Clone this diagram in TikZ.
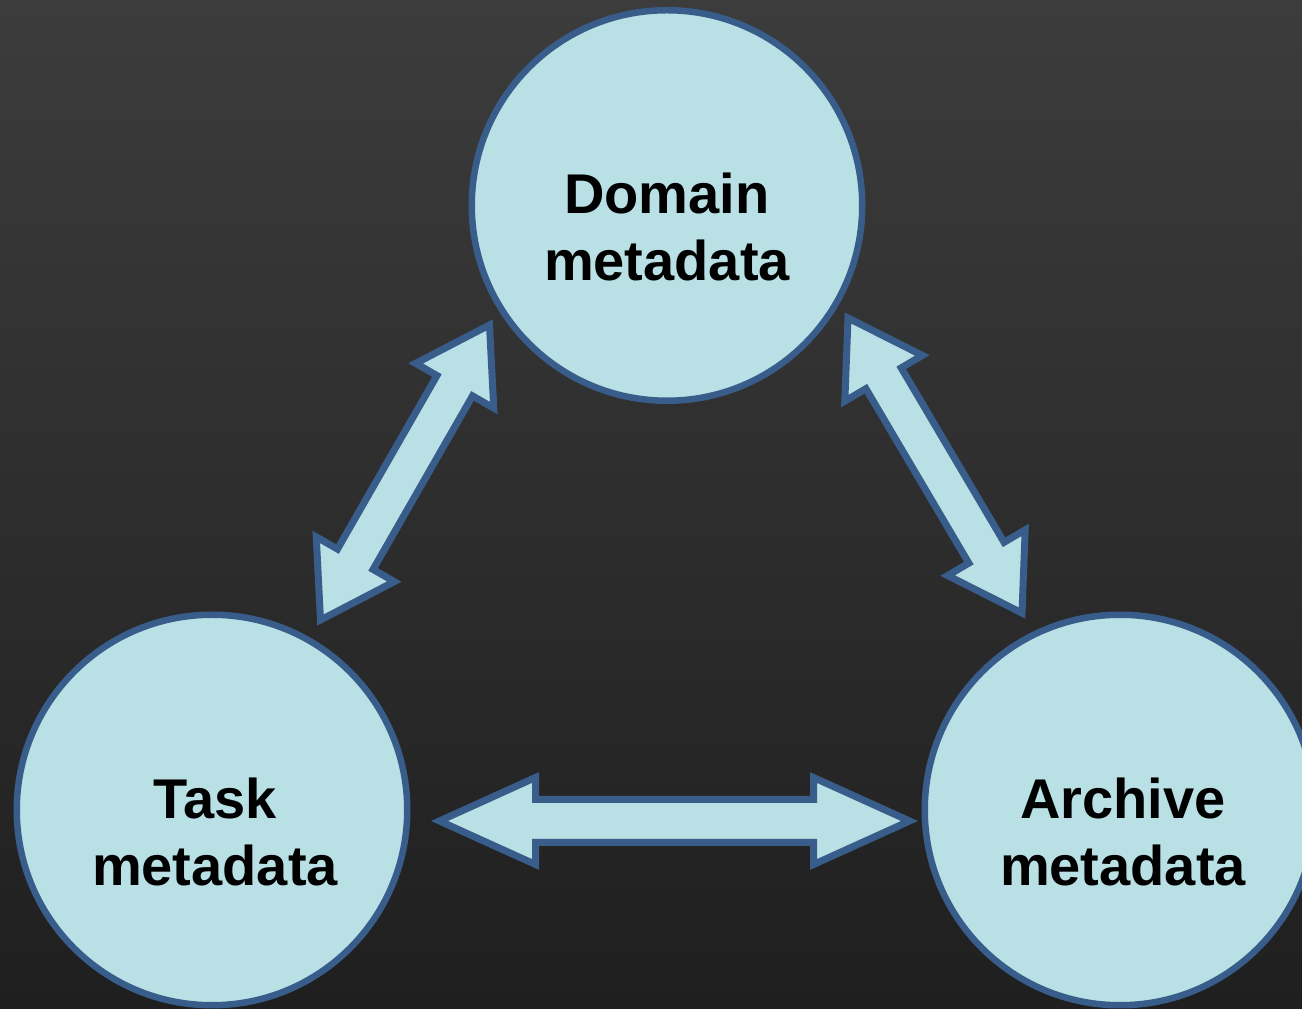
\documentclass[tikz,border=0pt]{standalone}
\usepackage{fontspec}
\setmainfont{Liberation Sans}
\usetikzlibrary{calc}

\definecolor{bgtop}{RGB}{60,60,60}
\definecolor{bgbottom}{RGB}{31,31,31}
\definecolor{discfill}{RGB}{185,224,228}
\definecolor{discline}{RGB}{56,93,138}

% Double-headed block arrow between two tip points.
% #1,#2: tips; #3: shaft half-width; #4: head half-width; #5: head length
\newcommand\blockarrow[5]{%
  \filldraw[arrowbody]
    (#1)
    -- ($(#1)!#5!(#2)!#4!90:(#2)$)
    -- ($(#1)!#5!(#2)!#3!90:(#2)$)
    -- ($(#2)!#5!(#1)!#3!-90:(#1)$)
    -- ($(#2)!#5!(#1)!#4!-90:(#1)$)
    -- (#2)
    -- ($(#2)!#5!(#1)!#4!90:(#1)$)
    -- ($(#2)!#5!(#1)!#3!90:(#1)$)
    -- ($(#1)!#5!(#2)!#3!-90:(#2)$)
    -- ($(#1)!#5!(#2)!#4!-90:(#2)$)
    -- cycle;}

\tikzset{
  disc/.style={circle, draw=discline, fill=discfill, line width=6.5pt,
    minimum size=390.5pt, inner sep=0pt},
  disclabel/.style={font=\bfseries\fontsize{56}{67}\selectfont,
    align=center, text=black, inner sep=0pt},
  arrowbody/.style={draw=discline, fill=discfill, line width=7pt,
    line join=miter},
}

\begin{document}
\begin{tikzpicture}[x=1pt, y=1pt]
  % background
  \shade[top color=bgtop, bottom color=bgbottom] (0,0) rectangle (1302,1009);
  \useasboundingbox (0,0) rectangle (1302,1009);

  % the three metadata discs
  \node[disc] (domain)  at (667,803.5) {};
  \node[disc] (task)    at (212,199)   {};
  \node[disc] (archive) at (1120,199)  {};

  \node[disclabel] (domainlbl)  at ([yshift=-21.5pt]domain.center)  {Domain\\metadata};
  \node[disclabel] (tasklbl)    at ([xshift=3pt,yshift=-21.5pt]task.center)    {Task\\metadata};
  \node[disclabel] (archivelbl) at ([xshift=3pt,yshift=-21.5pt]archive.center) {Archive\\metadata};

  % arrow tips
  \coordinate (taskup)      at (320.5,389);
  \coordinate (domainleft)  at (489.5,684);
  \coordinate (domainright) at (848,691);
  \coordinate (archiveup)   at (1022,396);
  \coordinate (taskright)   at (439.5,188);
  \coordinate (archiveleft) at (909.5,188);

  % two-way links
  \blockarrow{taskup}{domainleft}{20.5pt}{45pt}{70pt}
  \blockarrow{domainright}{archiveup}{20.5pt}{45pt}{70pt}
  \blockarrow{taskright}{archiveleft}{21.5pt}{43.5pt}{96pt}
\end{tikzpicture}
\end{document}
